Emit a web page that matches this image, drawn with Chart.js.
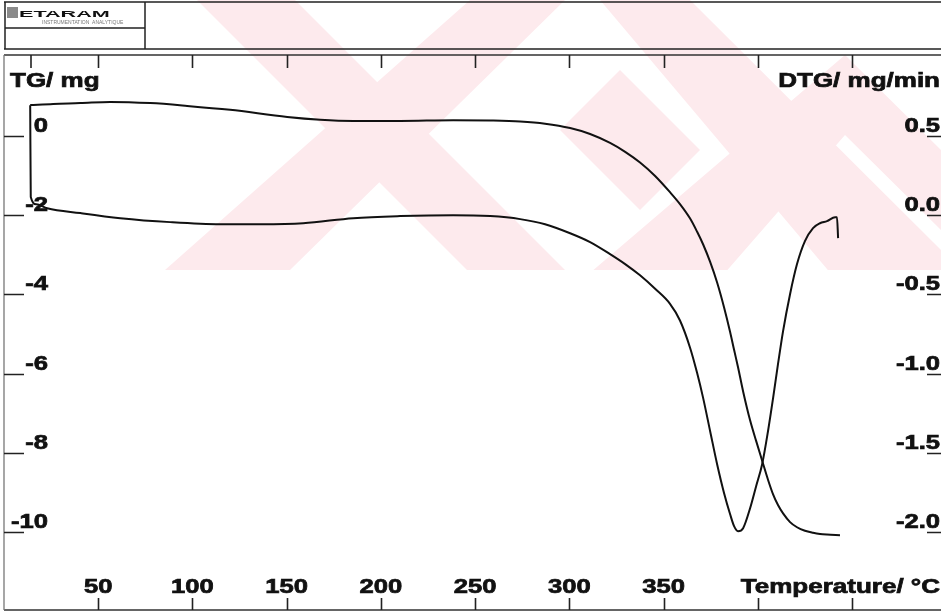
<!DOCTYPE html>
<html lang="en">
<head>
  <meta charset="UTF-8">
  <title>TG / DTG curve</title>
  <script src="https://cdn.jsdelivr.net/npm/chart.js"></script>
  <style>
    html, body { margin: 0; padding: 0; background: #fff; }
    #wrap { width: 941px; height: 614px; }
  </style>
</head>
<body>
<div id="wrap"><canvas id="tgChart" width="941" height="614"></canvas></div>
<script>
  // temperature (°C) and TG mass change (mg)
  const tgTemp = [13.9, 26.1, 40.5, 56.4, 77.6, 97.2, 120.0, 150.3, 167.8, 185.3, 210.2, 238.3, 258.0, 273.9,
    287.1, 300.4, 311.0, 321.6, 329.6, 337.5, 345.5, 353.4, 358.7, 364.0, 367.8, 371.0, 374.7, 378.4,
    382.1, 385.3, 387.4, 389.5, 392.2, 395.9, 399.1, 402.3, 405.4, 408.1, 410.7, 413.4, 417.1, 420.8,
    425.0, 429.3, 433.0, 436.7, 443.6];
  const tgMass = [0.78, 0.81, 0.83, 0.86, 0.83, 0.76, 0.66, 0.48, 0.41, 0.38, 0.38, 0.40, 0.39, 0.365,
    0.31, 0.20, 0.05, -0.175, -0.40, -0.67, -1.01, -1.42, -1.72, -2.08, -2.42, -2.74, -3.18, -3.70,
    -4.33, -4.95, -5.40, -5.84, -6.45, -7.18, -7.70, -8.20, -8.68, -9.05, -9.32, -9.53, -9.75, -9.88,
    -9.97, -10.02, -10.05, -10.065, -10.08];

  // temperature (°C) and DTG rate (mg/min)
  const dtgTemp = [13.9, 14.2, 17.1, 22.9, 40.5, 61.7, 88.2, 114.7, 136.0, 158.8, 185.3, 210.2, 238.3, 258.0,
    273.9, 287.1, 300.4, 311.0, 321.6, 329.6, 337.5, 345.5, 353.4, 358.7, 364.0, 367.8, 371.0, 374.7,
    378.4, 382.1, 385.3, 387.4, 389.5, 392.2, 395.9, 399.1, 402.3, 405.4, 408.1, 410.7, 413.4, 417.1,
    420.8, 425.0, 429.3, 433.0, 436.7, 441.0, 442.0, 442.6];
  const dtgRate = [0.694, 0.114, 0.069, 0.044, 0.013, -0.019, -0.044, -0.057, -0.057, -0.051, -0.019, -0.006, 0.0, -0.006,
    -0.025, -0.057, -0.114, -0.170, -0.246, -0.309, -0.380, -0.465, -0.560, -0.665, -0.835, -0.997, -1.155, -1.364,
    -1.572, -1.755, -1.888, -1.963, -1.995, -1.976, -1.850, -1.711, -1.572, -1.364, -1.155, -0.941, -0.732, -0.499,
    -0.309, -0.164, -0.082, -0.051, -0.038, -0.013, -0.013, -0.145];

  // axis ticks
  const tempTicks = [50, 100, 150, 200, 250, 300, 350, 400, 450];
  const tempLabels = ['50', '100', '150', '200', '250', '300', '350'];
  const tgTicks = [0, -2, -4, -6, -8, -10];
  const dtgTicks = [0.5, 0.0, -0.5, -1.0, -1.5, -2.0];

  const FONT = '"Liberation Sans", Arial, sans-serif';

  // wide bold text like the scanned print
  function wideText(ctx, txt, x, y, align, size, stretch) {
    ctx.save();
    ctx.font = 'bold ' + size + 'px ' + FONT;
    const w = ctx.measureText(txt).width * stretch;
    let x0 = x;
    if (align === 'right') x0 = x - w;
    if (align === 'center') x0 = x - w / 2;
    ctx.translate(x0, y);
    ctx.scale(stretch, 1);
    ctx.textAlign = 'left';
    ctx.textBaseline = 'alphabetic';
    ctx.fillStyle = '#111';
    ctx.strokeStyle = '#111';
    ctx.lineWidth = 0.7;
    ctx.fillText(txt, 0, 0);
    ctx.strokeText(txt, 0, 0);
    ctx.restore();
  }

  const sheetPlugin = {
    id: 'sheet',
    beforeDraw(chart) {
      const ctx = chart.ctx;
      ctx.save();
      // faint pink watermark
      ctx.fillStyle = '#fdeaed';
      ctx.beginPath();
      ctx.rect(160, 0, 781, 270);
      ctx.clip();
      const bands = [
        [[197, 0], [295, 0], [565, 270], [467, 270]],
        [[470, 0], [565, 0], [290, 270], [165, 270]],
        [[600, 0], [690, 0], [941, 250], [941, 320], [870, 320]],
        [[845, 55], [941, 150], [941, 230], [845, 135], [710, 290], [570, 290]],
        [[560, 130], [620, 70], [700, 150], [640, 210]]
      ];
      bands.forEach(b => {
        ctx.beginPath();
        ctx.moveTo(b[0][0], b[0][1]);
        for (let i = 1; i < b.length; i++) ctx.lineTo(b[i][0], b[i][1]);
        ctx.closePath();
        ctx.fill();
      });
      ctx.restore();
    },
    afterDraw(chart) {
      const ctx = chart.ctx;
      const a = chart.chartArea;
      const xs = chart.scales.x, ys = chart.scales.y, y2 = chart.scales.y2;
      ctx.save();
      ctx.strokeStyle = '#222';
      ctx.lineWidth = 1.5;

      // header strip and logo box
      ctx.beginPath();
      ctx.moveTo(4, 2); ctx.lineTo(941, 2);
      ctx.moveTo(4, 49); ctx.lineTo(941, 49);
      ctx.moveTo(5, 2); ctx.lineTo(5, 49);
      ctx.moveTo(145, 2); ctx.lineTo(145, 49);
      ctx.moveTo(5, 28); ctx.lineTo(145, 28);
      ctx.stroke();
      ctx.fillStyle = '#8a8a8a';
      ctx.fillRect(7, 7, 11, 11);
      ctx.save();
      ctx.font = 'bold 9px ' + FONT;
      ctx.translate(19, 17);
      ctx.scale(2.4, 1);
      ctx.fillStyle = '#111';
      ctx.fillText('ETARAM', 0, 0);
      ctx.restore();
      ctx.font = '5px ' + FONT;
      ctx.fillStyle = '#777';
      ctx.fillText('INSTRUMENTATION  ANALYTIQUE', 42, 24);

      // plot frame: top, bottom, left
      ctx.strokeStyle = '#333';
      ctx.lineWidth = 1.3;
      ctx.beginPath();
      ctx.moveTo(a.left, a.top); ctx.lineTo(a.right, a.top);
      ctx.moveTo(a.left, a.bottom); ctx.lineTo(a.right, a.bottom);
      ctx.stroke();
      ctx.strokeStyle = '#777';
      ctx.beginPath();
      ctx.moveTo(a.left, a.top); ctx.lineTo(a.left, a.bottom);
      ctx.stroke();

      // temperature ticks top and bottom
      ctx.strokeStyle = '#222';
      ctx.lineWidth = 1.6;
      ctx.beginPath();
      tempTicks.forEach(t => {
        const px = Math.round(xs.getPixelForValue(t)) + 0.5;
        ctx.moveTo(px, a.bottom); ctx.lineTo(px, a.bottom - 12);
        ctx.moveTo(px, a.top); ctx.lineTo(px, a.top + 13);
      });
      ctx.moveTo(31, a.top); ctx.lineTo(31, a.top + 13);
      // TG ticks on the left
      tgTicks.forEach(v => {
        const py = Math.round(ys.getPixelForValue(v)) + 0.5;
        ctx.moveTo(a.left, py); ctx.lineTo(a.left + 20, py);
      });
      // DTG ticks on the right
      dtgTicks.forEach(v => {
        const py = Math.round(y2.getPixelForValue(v)) + 0.5;
        ctx.moveTo(a.right - 14, py); ctx.lineTo(a.right, py);
      });
      ctx.stroke();

      // tick labels
      tempLabels.forEach((l, i) => {
        wideText(ctx, l, xs.getPixelForValue(tempTicks[i]), a.bottom - 17, 'center', 20, 1.28);
      });
      tgTicks.forEach(v => {
        wideText(ctx, String(v), 48, ys.getPixelForValue(v) - 4, 'right', 20, 1.28);
      });
      dtgTicks.forEach(v => {
        wideText(ctx, v.toFixed(1), 940, y2.getPixelForValue(v) - 4, 'right', 20, 1.28);
      });

      // axis titles
      wideText(ctx, 'TG/ mg', 10, 87, 'left', 20, 1.3);
      wideText(ctx, 'DTG/ mg/min', 940, 87, 'right', 20, 1.3);
      wideText(ctx, 'Temperature/ °C', 940, a.bottom - 17, 'right', 20, 1.3);
      ctx.restore();
    }
  };

  new Chart(document.getElementById('tgChart'), {
    type: 'line',
    data: {
      datasets: [
        {
          label: 'TG',
          data: tgTemp.map((t, i) => ({ x: t, y: tgMass[i] })),
          yAxisID: 'y',
          borderColor: '#111',
          borderWidth: 2,
          pointRadius: 0,
          cubicInterpolationMode: 'monotone',
          fill: false
        },
        {
          label: 'DTG',
          data: dtgTemp.map((t, i) => ({ x: t, y: dtgRate[i] })),
          yAxisID: 'y2',
          borderColor: '#111',
          borderWidth: 2,
          pointRadius: 0,
          cubicInterpolationMode: 'monotone',
          fill: false
        }
      ]
    },
    options: {
      responsive: false,
      animation: false,
      devicePixelRatio: 1,
      layout: { padding: { top: 55, left: 4, right: 0, bottom: 4 } },
      plugins: { legend: { display: false }, tooltip: { enabled: false } },
      scales: {
        x: { type: 'linear', min: 0, max: 497.2, display: false },
        y: { min: -11.97, max: 2.045, display: false },
        y2: { position: 'right', min: -2.4925, max: 1.011, display: false }
      }
    },
    plugins: [sheetPlugin]
  });
</script>
</body>
</html>
